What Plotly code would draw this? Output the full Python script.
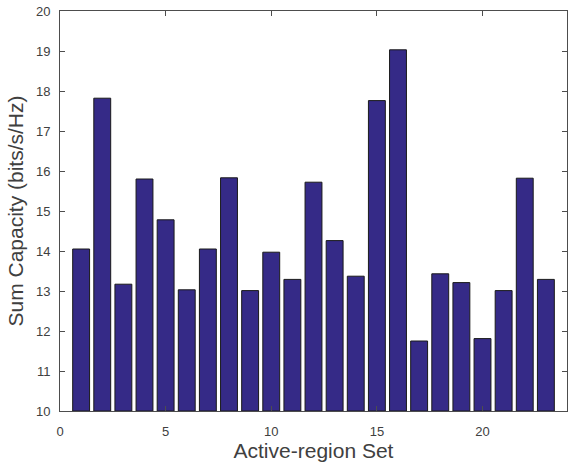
import plotly.graph_objects as go

# Active-region set index and the resulting sum capacity (bits/s/Hz)
region_set = list(range(1, 24))
sum_capacity = [14.05, 17.82, 13.17, 15.80, 14.78, 13.03, 14.05, 15.83, 13.01, 13.97,
                13.29, 15.72, 14.26, 13.37, 17.76, 19.03, 11.75, 13.43, 13.21, 11.81,
                13.01, 15.82, 13.29]

x_ticks = [0, 5, 10, 15, 20]
y_ticks = list(range(10, 21))
y_floor = 10

bar_color = "#352A87"
axis_color = "#4d4d4d"
text_color = "#404040"
font_family = "Liberation Sans, Arial, Helvetica, sans-serif"

# bars rise from the axis floor, so heights are measured from it
fig = go.Figure(
    go.Bar(
        x=region_set,
        y=[v - y_floor for v in sum_capacity],
        base=y_floor,
        width=0.8,
        marker=dict(color=bar_color, line=dict(color="#1a1a1a", width=1)),
    )
)

fig.update_layout(
    width=568,
    height=470,
    margin=dict(l=60, r=1, t=11, b=59),
    paper_bgcolor="white",
    plot_bgcolor="white",
    showlegend=False,
    font=dict(family=font_family, color=text_color, size=13),
)

fig.update_xaxes(
    range=[0, 24],
    tickvals=x_ticks,
    ticks="inside",
    ticklen=5,
    tickcolor=axis_color,
    showline=True,
    linecolor=axis_color,
    linewidth=1,
    mirror="allticks",
    showgrid=False,
    zeroline=False,
    ticklabelstandoff=8,
    tickfont=dict(size=13, color=text_color),
    title=dict(text="Active-region Set", font=dict(size=21, color=text_color), standoff=4),
)
fig.update_yaxes(
    range=[10, 20],
    tickvals=y_ticks,
    ticks="inside",
    ticklen=5,
    tickcolor=axis_color,
    showline=True,
    linecolor=axis_color,
    linewidth=1,
    mirror="allticks",
    showgrid=False,
    zeroline=False,
    ticklabelstandoff=6,
    tickfont=dict(size=13, color=text_color),
    title=dict(text="Sum Capacity (bits/s/Hz)", font=dict(size=21, color=text_color), standoff=6),
)

fig.write_html("out.html")
